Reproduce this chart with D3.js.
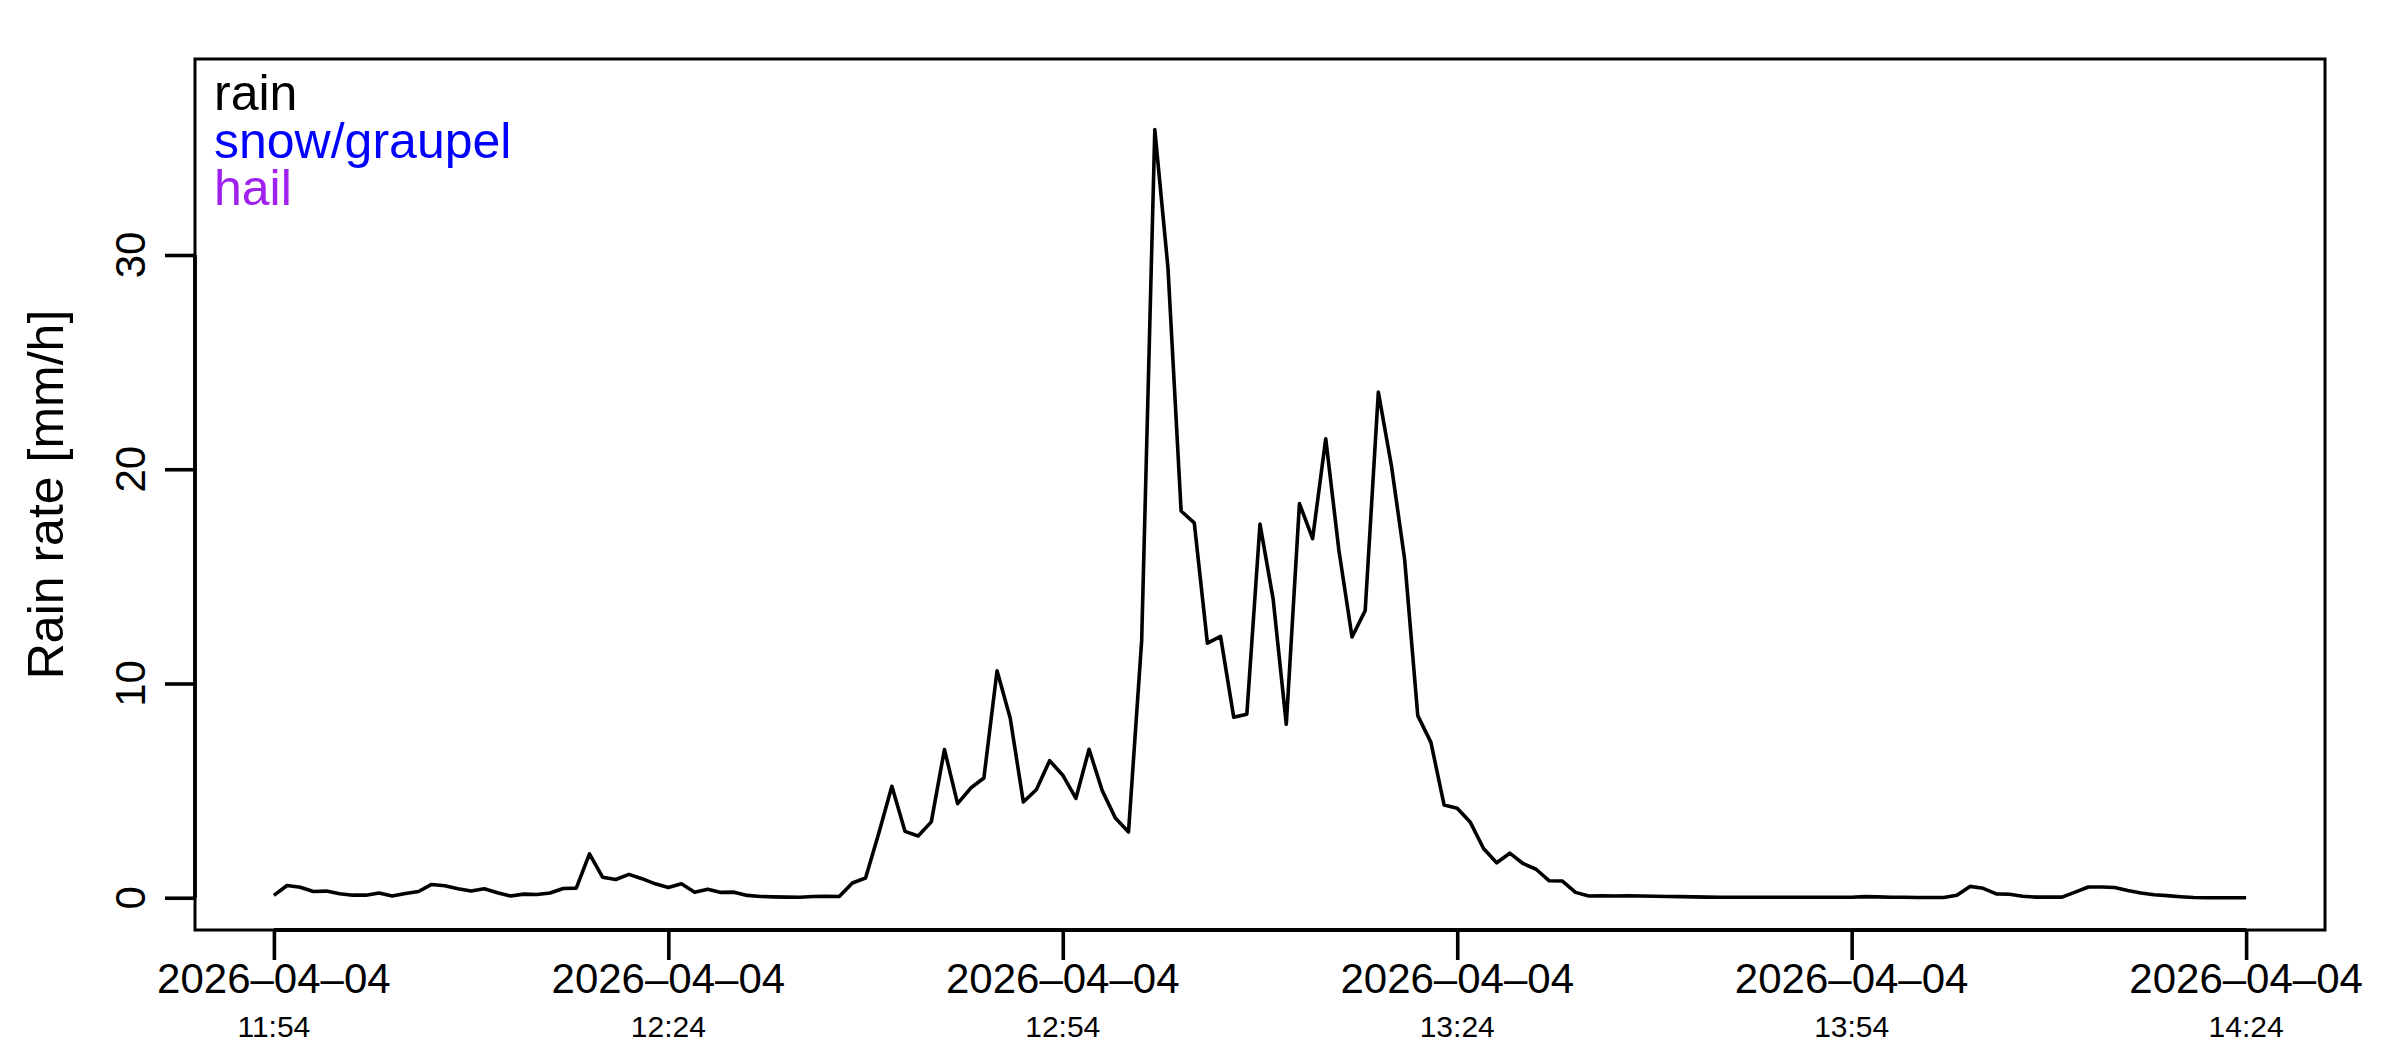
<!DOCTYPE html>
<html>
<head>
<meta charset="utf-8">
<title>Rain rate</title>
<script src="https://d3js.org/d3.v7.min.js"></script>
<style>
  body { margin: 0; background: white; }
  svg text { font-family: "Liberation Sans", Arial, Helvetica, sans-serif; }
</style>
</head>
<body>
<div id="chart"></div>
<script>
// one reading per minute, starting 2026-04-04 11:54
const startTime = new Date(2026, 3, 4, 11, 54);
const rainRate = [
  0.11, 0.57, 0.49, 0.29, 0.31, 0.19, 0.12, 0.12, 0.22, 0.08,
  0.20, 0.29, 0.62, 0.56, 0.42, 0.31, 0.42, 0.23, 0.08, 0.17,
  0.15, 0.22, 0.43, 0.45, 2.05, 0.96, 0.85, 1.09, 0.89, 0.65,
  0.48, 0.65, 0.26, 0.40, 0.25, 0.26, 0.11, 0.06, 0.04, 0.03,
  0.02, 0.06, 0.07, 0.06, 0.69, 0.92, 3.00, 5.20, 3.10, 2.88,
  3.54, 6.92, 4.39, 5.12, 5.59, 10.59, 8.39, 4.47, 5.05, 6.40,
  5.72, 4.64, 6.93, 5.00, 3.72, 3.07, 12.00, 35.85, 29.40, 18.05,
  17.50, 11.88, 12.20, 8.43, 8.57, 17.44, 13.94, 8.10, 18.40, 16.76,
  21.42, 16.22, 12.17, 13.40, 23.60, 20.15, 15.80, 8.50, 7.25, 4.33,
  4.18, 3.52, 2.30, 1.63, 2.08, 1.60, 1.33, 0.79, 0.78, 0.25,
  0.08, 0.09, 0.08, 0.09, 0.08, 0.07, 0.06, 0.05, 0.04, 0.03,
  0.02, 0.02, 0.02, 0.02, 0.02, 0.02, 0.02, 0.02, 0.02, 0.02,
  0.02, 0.05, 0.04, 0.02, 0.02, 0.01, 0.01, 0.01, 0.12, 0.53,
  0.44, 0.18, 0.16, 0.07, 0.03, 0.03, 0.03, 0.26, 0.50, 0.50,
  0.48, 0.34, 0.22, 0.14, 0.10, 0.05, 0.01, 0.00, 0.00, 0.00,
  0.00
];
const legendLabels = ["rain", "snow/graupel", "hail"];
const legendColors = ["black", "blue", "#a020f0"];
const yTicks = [0, 10, 20, 30];
const tickStepMinutes = 30;

const width = 2400, height = 1050;
const box = { left: 195, right: 2325, top: 59, bottom: 930 };

const times = rainRate.map((d, i) => new Date(startTime.getTime() + i * 60000));
const data = rainRate.map((v, i) => ({ t: times[i], v: v }));

const svg = d3.select("#chart")
  .append("svg")
  .attr("width", width)
  .attr("height", height);

// R style: 4% padding on each side of the data range
const t0 = times[0], t1 = times[times.length - 1];
const pad = (t1 - t0) * 0.04;
const x = d3.scaleTime()
  .domain([new Date(t0.getTime() - pad), new Date(t1.getTime() + pad)])
  .range([box.left, box.right]);

const yMax = d3.max(rainRate) * 1.05;
const y = d3.scaleLinear()
  .domain([-0.04 * yMax, 1.04 * yMax])
  .range([box.bottom, box.top]);

// plot box
svg.append("rect")
  .attr("x", box.left)
  .attr("y", box.top)
  .attr("width", box.right - box.left)
  .attr("height", box.bottom - box.top)
  .attr("fill", "none")
  .attr("stroke", "black")
  .attr("stroke-width", 3);

// rain line
const line = d3.line()
  .x(d => x(d.t))
  .y(d => y(d.v));

svg.append("path")
  .datum(data)
  .attr("d", line)
  .attr("fill", "none")
  .attr("stroke", "black")
  .attr("stroke-width", 3.6)
  .attr("stroke-linejoin", "round");

// x axis
const xTickValues = d3.range(0, (t1 - t0) / 60000 + 1, tickStepMinutes)
  .map(m => new Date(t0.getTime() + m * 60000));

const xAxis = svg.append("g")
  .attr("transform", `translate(0,${box.bottom})`)
  .call(d3.axisBottom(x).tickValues(xTickValues).tickSize(30).tickFormat(""));
xAxis.select(".domain")
  .attr("d", `M${x(t0)},0H${x(t1)}`)
  .attr("stroke-width", 3.8);
xAxis.selectAll(".tick line").attr("stroke-width", 3.6);

const fmtDate = d3.timeFormat("%Y–%m–%d");
const fmtTime = d3.timeFormat("%H:%M");
const xLabels = svg.append("g");
xLabels.selectAll("text.date")
  .data(xTickValues)
  .join("text")
  .attr("class", "date")
  .attr("x", d => x(d))
  .attr("y", 993)
  .attr("text-anchor", "middle")
  .attr("font-size", 42)
  .text(d => fmtDate(d));
xLabels.selectAll("text.time")
  .data(xTickValues)
  .join("text")
  .attr("class", "time")
  .attr("x", d => x(d))
  .attr("y", 1037)
  .attr("text-anchor", "middle")
  .attr("font-size", 30)
  .text(d => fmtTime(d));

// y axis
const yAxis = svg.append("g")
  .attr("transform", `translate(${box.left},0)`)
  .call(d3.axisLeft(y).tickValues(yTicks).tickSize(30).tickFormat(""));
yAxis.select(".domain")
  .attr("d", `M0,${y(yTicks[0])}V${y(yTicks[yTicks.length - 1])}`)
  .attr("stroke-width", 3.8);
yAxis.selectAll(".tick line").attr("stroke-width", 3.6);

svg.append("g").selectAll("text")
  .data(yTicks)
  .join("text")
  .attr("transform", d => `translate(145,${y(d)}) rotate(-90)`)
  .attr("text-anchor", "middle")
  .attr("font-size", 42)
  .text(d => d);

svg.append("text")
  .attr("transform", `translate(63,${(box.top + box.bottom) / 2}) rotate(-90)`)
  .attr("text-anchor", "middle")
  .attr("font-size", 50)
  .text("Rain rate [mm/h]");

// legend (text only)
svg.append("g").selectAll("text")
  .data(legendLabels)
  .join("text")
  .attr("x", 214)
  .attr("y", (d, i) => 110 + i * 47.5)
  .attr("font-size", 50)
  .attr("fill", (d, i) => legendColors[i])
  .text(d => d);
</script>
</body>
</html>
